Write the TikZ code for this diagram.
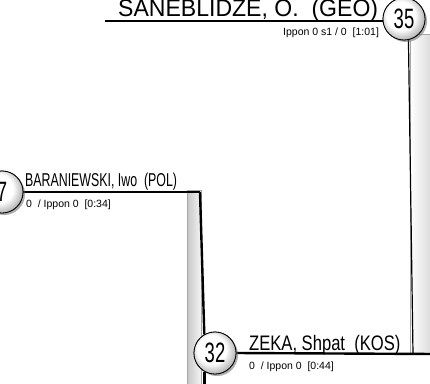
\documentclass[tikz,border=0pt]{standalone}
\usepackage{fontspec}
\setmainfont{Liberation Sans}
\newfontfamily\numfont[FakeStretch=0.66]{Liberation Sans}
\usepackage{tikz}
\usetikzlibrary{
    positioning,
    shadows
}
\pgfdeclareradialshading{seedball}{\pgfpoint{-6bp}{6bp}}{
    color(0bp)=(white); color(17bp)=(white);
    color(27bp)=(gray!55); color(50bp)=(gray!55)}

\begin{document}
\begin{tikzpicture}[
    x=1pt, y=-1pt,
    ball/.style={
        circle,
        draw=black,
        line width=0.8pt,
        minimum size=42pt,
        inner sep=0pt,
        shading=seedball,
        drop shadow={shadow xshift=2pt, shadow yshift=-2pt, opacity=0.4},
        font=\numfont\fontsize{28}{28}\selectfont
    },
    player/.style 2 args={
        anchor=base west,
        inner sep=0pt,
        font={\addfontfeatures{FakeStretch=#2}\fontsize{#1}{#1}\selectfont}
    },
    score/.style={
        anchor=base west,
        inner sep=0pt,
        font=\fontsize{10.5}{10.5}\selectfont
    },
    link/.style={line width=2.4pt},
    thinlink/.style={line width=1.2pt},
    bar/.style={draw=gray!70, line width=0.4pt}
]

\useasboundingbox (0,0) rectangle (430,383);
\clip (0,0) rectangle (430,383);

\shade[bar, left color=gray!45, right color=gray!8] (187,190) rectangle (201,392);
\shade[bar, left color=white, right color=gray!35] (410,34) rectangle (436,354);

\coordinate (topL) at (105,21);
\coordinate (elbowL) at (200,192);
\coordinate (elbowR) at (413,354);
\coordinate (endR) at (436,354);

\node[ball] (c7) at (2,192) {7};
\node[ball] (c32) at (215,353) {32};
\node[ball] (c35) at (404,19) {35};

\draw[link] (topL) -- (topL -| c35.west);
\draw[link] (c7.east) -- (elbowL);
\draw[link] (elbowL) -- (c32.120);
\draw[link] (c32.240) -- ++(0,20);
\draw[thinlink] (c35.-78) -- (elbowR);
\draw[link] (c32.east) -- (endR);

\node[ball] at (c7) {7};
\node[ball] at (c32) {32};
\node[ball] at (c35) {35};

\node[player={24}{0.96}] (geo) at (118,16) {SANEBLIDZE, O.\ \ (GEO)};
\node[score] (geoscore) at (283,35) {Ippon 0 s1 / 0\ \ [1:01]};

\node[player={18.6}{0.665}] (pol) at (25,186) {BARANIEWSKI, Iwo\ \ (POL)};
\node[score] (polscore) at (26,207) {0\ \ / Ippon 0\ \ [0:34]};

\node[player={21}{0.79}] (kos) at (249,350) {ZEKA, Shpat\ \ (KOS)};
\node[score] (kosscore) at (249,369) {0\ \ / Ippon 0\ \ [0:44]};

\end{tikzpicture}
\end{document}
